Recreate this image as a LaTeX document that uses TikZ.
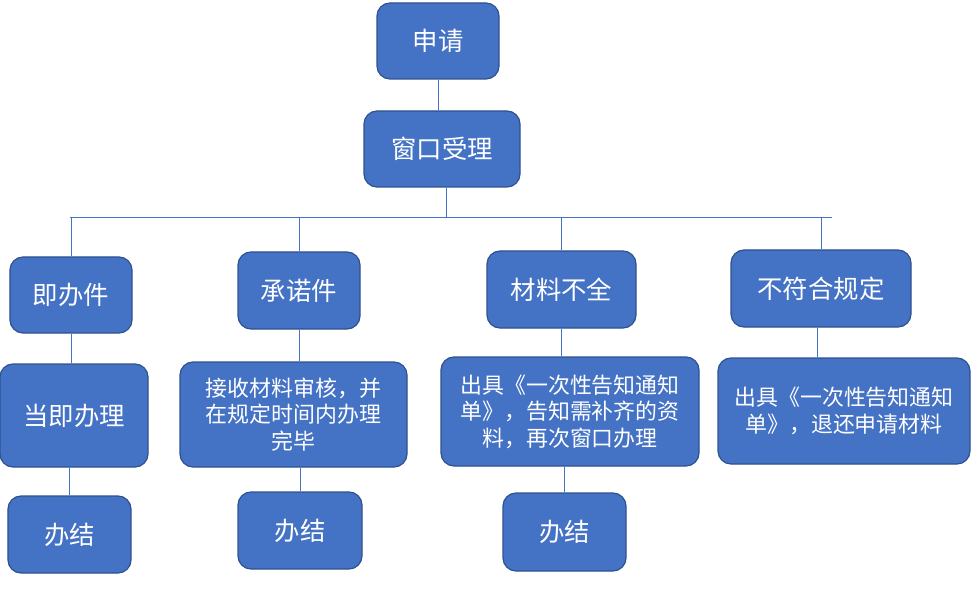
\documentclass[tikz,border=0pt]{standalone}
\usepackage{fontspec}
\newfontfamily\cjk{Noto Sans CJK SC}
\usetikzlibrary{positioning}
\definecolor{boxblue}{HTML}{4472C4}
\definecolor{boxedge}{HTML}{2F528F}

\begin{document}
\begin{tikzpicture}[x=1bp,y=-1bp,
  box/.style={draw=boxedge,fill=boxblue,line width=1.2bp,rounded corners=13bp,text=white,align=center,inner sep=0pt},
  big/.style={box,font=\cjk\fontsize{25.5}{30}\selectfont},
  small/.style={box,font=\cjk\fontsize{22}{26.5}\selectfont},
  link/.style={draw=boxblue,line width=1bp}]
  \useasboundingbox (0,0) rectangle (975,599);
  \node[big,minimum width=122bp,minimum height=76bp] (shen) at (438,41){申请};
  \node[big,minimum width=156bp,minimum height=76bp] (chuang) at (442,149){窗口受理};
  \node[big,minimum width=122bp,minimum height=76bp] (jiban) at (71,295){即办件};
  \node[big,minimum width=122bp,minimum height=77bp] (chengnuo) at (299,290.5){承诺件};
  \node[big,minimum width=149bp,minimum height=77bp] (buquan) at (561.5,289.5){材料不全};
  \node[big,minimum width=180bp,minimum height=77bp] (bufu) at (821,288.5){不符合规定};
  \node[big,minimum width=148bp,minimum height=103bp] (dangji) at (74,415.5){当即办理};
  \node[small,minimum width=227bp,minimum height=105bp] (shenhe) at (293.5,414.5){接收材料审核，并\\在规定时间内办理\\完毕};
  \node[small,minimum width=258bp,minimum height=109bp] (buqi) at (570,411.5){出具《一次性告知通知\\单》，告知需补齐的资\\料，再次窗口办理};
  \node[small,minimum width=252bp,minimum height=106bp] (tuihuan) at (844,411){出具《一次性告知通知\\单》，退还申请材料};
  \node[big,minimum width=123bp,minimum height=77bp] (jie1) at (69.5,534.5){办结};
  \node[big,minimum width=124bp,minimum height=77bp] (jie2) at (300,530.5){办结};
  \node[big,minimum width=123bp,minimum height=78bp] (jie3) at (564.5,532){办结};

  \coordinate (busL) at (70,218);
  \coordinate (busR) at (832,218);
  \draw[link] (shen) -- (shen |- chuang.north);
  \draw[link] ([xshift=4bp]chuang.south) -- ([xshift=4bp]chuang.south |- busL);
  \draw[link] (busL) -- (busR);
  \foreach \n in {jiban,chengnuo,buquan,bufu}{
    \draw[link] (\n.north) -- (\n |- busL);
  }
  \draw[link] (jiban.south) -- (jiban |- dangji.north);
  \draw[link] (chengnuo.south) -- (chengnuo |- shenhe.north);
  \draw[link] (buquan.south) -- (buquan |- buqi.north);
  \draw[link] ([xshift=-4bp]bufu.south) -- ([xshift=-4bp]bufu.south |- tuihuan.north);
  \draw[link] (jie1.north) -- (jie1 |- dangji.south);
  \draw[link] (jie2.north) -- (jie2 |- shenhe.south);
  \draw[link] (jie3.north) -- (jie3 |- buqi.south);
\end{tikzpicture}
\end{document}
